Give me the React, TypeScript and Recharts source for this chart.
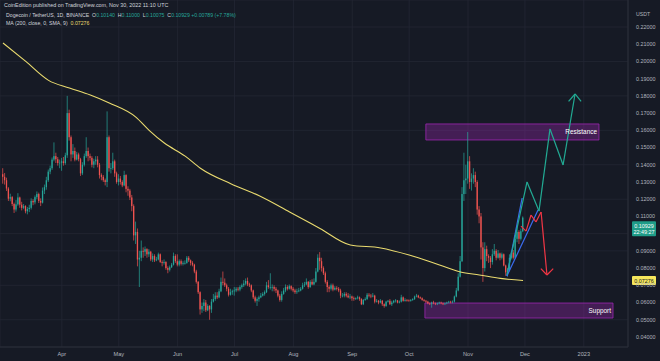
import {
  ComposedChart,
  Bar,
  Line,
  XAxis,
  YAxis,
  CartesianGrid,
  ReferenceArea,
  ReferenceLine,
} from 'recharts'

// DOGE/USDT daily candles, day 0 = 1 Mar 2022 ... day 274 = 30 Nov 2022
// open of each candle = close of the day before (24h market)
const firstOpen = 0.1345

const closes = [
  // Mar
  0.1330, 0.1310, 0.1262, 0.1203, 0.1212, 0.1172, 0.1140, 0.1170, 0.1210, 0.1168, 0.1150, 0.1160, 0.1130, 0.1143, 0.1150, 0.1190,
  0.1182, 0.1212, 0.1230, 0.1190, 0.1180, 0.1250, 0.1270, 0.1310, 0.1360, 0.1380, 0.1430, 0.1450, 0.1432, 0.1410, 0.1412,
  // Apr
  0.1420, 0.1410, 0.1455, 0.1700, 0.1560, 0.1460, 0.1480, 0.1430, 0.1460, 0.1432, 0.1350, 0.1400, 0.1450, 0.1480, 0.1450,
  0.1440, 0.1400, 0.1420, 0.1430, 0.1400, 0.1340, 0.1330, 0.1310, 0.1300, 0.1560, 0.1380, 0.1380, 0.1420, 0.1350, 0.1300,
  // May
  0.1320, 0.1300, 0.1280, 0.1340, 0.1260, 0.1250, 0.1210, 0.1160, 0.0990, 0.1010, 0.0850, 0.0860, 0.0900, 0.0895, 0.0910, 0.0880,
  0.0895, 0.0850, 0.0870, 0.0845, 0.0850, 0.0880, 0.0835, 0.0830, 0.0835, 0.0800, 0.0790, 0.0805, 0.0820, 0.0870, 0.0840,
  // Jun
  0.0820, 0.0840, 0.0825, 0.0830, 0.0830, 0.0860, 0.0845, 0.0830, 0.0820, 0.0780, 0.0720, 0.0660, 0.0560, 0.0580, 0.0600,
  0.0555, 0.0580, 0.0560, 0.0605, 0.0620, 0.0640, 0.0630, 0.0665, 0.0720, 0.0715, 0.0700, 0.0680, 0.0645, 0.0660, 0.0665,
  // Jul
  0.0670, 0.0680, 0.0675, 0.0690, 0.0700, 0.0710, 0.0725, 0.0705, 0.0700, 0.0670, 0.0630, 0.0610, 0.0620, 0.0630, 0.0640, 0.0650,
  0.0660, 0.0700, 0.0690, 0.0690, 0.0690, 0.0680, 0.0670, 0.0640, 0.0615, 0.0650, 0.0670, 0.0690, 0.0680, 0.0695, 0.0680,
  // Aug
  0.0670, 0.0660, 0.0665, 0.0670, 0.0680, 0.0700, 0.0705, 0.0720, 0.0690, 0.0720, 0.0705, 0.0720, 0.0780, 0.0860, 0.0840, 0.0800,
  0.0770, 0.0720, 0.0690, 0.0680, 0.0700, 0.0675, 0.0685, 0.0680, 0.0670, 0.0640, 0.0640, 0.0650, 0.0640, 0.0630, 0.0635,
  // Sep
  0.0625, 0.0620, 0.0625, 0.0630, 0.0620, 0.0590, 0.0615, 0.0620, 0.0645, 0.0640, 0.0635, 0.0640, 0.0605, 0.0610, 0.0600,
  0.0610, 0.0590, 0.0580, 0.0605, 0.0610, 0.0590, 0.0600, 0.0610, 0.0612, 0.0600, 0.0605, 0.0630, 0.0610, 0.0615, 0.0612,
  // Oct
  0.0610, 0.0615, 0.0620, 0.0635, 0.0640, 0.0630, 0.0625, 0.0615, 0.0610, 0.0605, 0.0595, 0.0590, 0.0600, 0.0595, 0.0590, 0.0595,
  0.0600, 0.0595, 0.0590, 0.0595, 0.0600, 0.0605, 0.0600, 0.0605, 0.0635, 0.0670, 0.0750, 0.0840, 0.1230, 0.1310, 0.1320,
  // Nov
  0.1420, 0.1300, 0.1320, 0.1340, 0.1300, 0.1140, 0.1100, 0.0920, 0.0800, 0.0910, 0.0870, 0.0860, 0.0835, 0.0880, 0.0900,
  0.0860, 0.0885, 0.0860, 0.0880, 0.0815, 0.0775, 0.0790, 0.0860, 0.0890, 0.0860, 0.0970, 0.1010, 0.0970, 0.1014, 0.1093,
]

const highs = [
  0.1380, 0.1352, 0.1325, 0.1270, 0.1232, 0.1218, 0.1180, 0.1195, 0.1235, 0.1215, 0.1185, 0.1172, 0.1165, 0.1155, 0.1168, 0.1205,
  0.1200, 0.1222, 0.1245, 0.1238, 0.1205, 0.1268, 0.1285, 0.1330, 0.1372, 0.1395, 0.1442, 0.1530, 0.1470, 0.1445, 0.1430,
  0.1440, 0.1445, 0.1470, 0.1800, 0.1720, 0.1570, 0.1520, 0.1500, 0.1475, 0.1470, 0.1440, 0.1415, 0.1465, 0.1560, 0.1500,
  0.1465, 0.1450, 0.1435, 0.1450, 0.1450, 0.1410, 0.1350, 0.1340, 0.1320, 0.1710, 0.1570, 0.1410, 0.1470, 0.1430, 0.1360,
  0.1345, 0.1335, 0.1310, 0.1365, 0.1345, 0.1275, 0.1260, 0.1225, 0.1170, 0.1070, 0.1030, 0.0900, 0.0960, 0.0920, 0.0925, 0.0915,
  0.0910, 0.0900, 0.0885, 0.0880, 0.0865, 0.0890, 0.0885, 0.0845, 0.0850, 0.0840, 0.0810, 0.0815, 0.0830, 0.0890, 0.0880,
  0.0880, 0.0850, 0.0850, 0.0840, 0.0845, 0.0870, 0.0870, 0.0850, 0.0840, 0.0825, 0.0790, 0.0725, 0.0665, 0.0600, 0.0620,
  0.0615, 0.0590, 0.0585, 0.0620, 0.0650, 0.0660, 0.0660, 0.0680, 0.0745, 0.0780, 0.0740, 0.0710, 0.0690, 0.0680, 0.0675,
  0.0690, 0.0690, 0.0690, 0.0700, 0.0710, 0.0730, 0.0740, 0.0745, 0.0715, 0.0705, 0.0675, 0.0640, 0.0630, 0.0640, 0.0655, 0.0660,
  0.0670, 0.0720, 0.0730, 0.0770, 0.0705, 0.0700, 0.0690, 0.0675, 0.0650, 0.0665, 0.0685, 0.0705, 0.0700, 0.0705, 0.0700,
  0.0690, 0.0680, 0.0680, 0.0685, 0.0690, 0.0715, 0.0720, 0.0740, 0.0725, 0.0730, 0.0735, 0.0740, 0.0800, 0.0880, 0.0893, 0.0860,
  0.0810, 0.0780, 0.0730, 0.0700, 0.0710, 0.0710, 0.0695, 0.0695, 0.0690, 0.0680, 0.0655, 0.0660, 0.0660, 0.0655, 0.0650,
  0.0640, 0.0635, 0.0630, 0.0640, 0.0635, 0.0625, 0.0620, 0.0630, 0.0655, 0.0655, 0.0650, 0.0655, 0.0645, 0.0620, 0.0615,
  0.0620, 0.0615, 0.0595, 0.0610, 0.0615, 0.0620, 0.0610, 0.0615, 0.0620, 0.0615, 0.0612, 0.0645, 0.0635, 0.0625, 0.0620,
  0.0618, 0.0620, 0.0625, 0.0640, 0.0650, 0.0645, 0.0635, 0.0630, 0.0620, 0.0615, 0.0610, 0.0600, 0.0605, 0.0610, 0.0600, 0.0600,
  0.0605, 0.0605, 0.0600, 0.0600, 0.0605, 0.0610, 0.0610, 0.0612, 0.0640, 0.0685, 0.0770, 0.0870, 0.1270, 0.1470, 0.1400,
  0.1590, 0.1450, 0.1350, 0.1380, 0.1360, 0.1310, 0.1160, 0.1120, 0.0950, 0.0950, 0.0930, 0.0880, 0.0870, 0.0910, 0.0940,
  0.0910, 0.0905, 0.0890, 0.0890, 0.0885, 0.0820, 0.0800, 0.0880, 0.0900, 0.0905, 0.0990, 0.1040, 0.1020, 0.1030, 0.1100,
]

const lows = [
  0.1290, 0.1285, 0.1248, 0.1190, 0.1188, 0.1160, 0.1120, 0.1128, 0.1162, 0.1150, 0.1135, 0.1142, 0.1118, 0.1112, 0.1125, 0.1140,
  0.1165, 0.1170, 0.1200, 0.1178, 0.1160, 0.1175, 0.1230, 0.1255, 0.1300, 0.1345, 0.1370, 0.1420, 0.1410, 0.1395, 0.1380,
  0.1365, 0.1395, 0.1400, 0.1440, 0.1540, 0.1420, 0.1440, 0.1420, 0.1425, 0.1420, 0.1335, 0.1340, 0.1390, 0.1440, 0.1420,
  0.1425, 0.1385, 0.1380, 0.1400, 0.1385, 0.1320, 0.1310, 0.1300, 0.1280, 0.1270, 0.1360, 0.1350, 0.1370, 0.1330, 0.1290,
  0.1280, 0.1285, 0.1270, 0.1275, 0.1240, 0.1220, 0.1195, 0.1130, 0.0960, 0.0940, 0.0810, 0.0690, 0.0840, 0.0860, 0.0870, 0.0860,
  0.0865, 0.0840, 0.0835, 0.0835, 0.0840, 0.0845, 0.0830, 0.0810, 0.0820, 0.0790, 0.0770, 0.0780, 0.0800, 0.0815, 0.0830,
  0.0810, 0.0810, 0.0815, 0.0815, 0.0820, 0.0825, 0.0835, 0.0815, 0.0810, 0.0770, 0.0710, 0.0650, 0.0530, 0.0540, 0.0550,
  0.0545, 0.0550, 0.0500, 0.0540, 0.0600, 0.0610, 0.0620, 0.0625, 0.0660, 0.0700, 0.0690, 0.0665, 0.0635, 0.0640, 0.0645,
  0.0640, 0.0660, 0.0665, 0.0665, 0.0680, 0.0690, 0.0700, 0.0695, 0.0690, 0.0660, 0.0620, 0.0600, 0.0580, 0.0605, 0.0625, 0.0635,
  0.0640, 0.0655, 0.0680, 0.0675, 0.0665, 0.0665, 0.0655, 0.0630, 0.0605, 0.0605, 0.0645, 0.0660, 0.0670, 0.0675, 0.0670,
  0.0660, 0.0650, 0.0650, 0.0660, 0.0665, 0.0675, 0.0690, 0.0700, 0.0680, 0.0685, 0.0700, 0.0700, 0.0715, 0.0775, 0.0790, 0.0780,
  0.0760, 0.0710, 0.0660, 0.0660, 0.0670, 0.0665, 0.0670, 0.0670, 0.0660, 0.0625, 0.0630, 0.0630, 0.0630, 0.0625, 0.0620,
  0.0610, 0.0610, 0.0615, 0.0618, 0.0610, 0.0585, 0.0585, 0.0610, 0.0615, 0.0630, 0.0625, 0.0630, 0.0595, 0.0600, 0.0590,
  0.0595, 0.0580, 0.0570, 0.0575, 0.0600, 0.0585, 0.0580, 0.0595, 0.0600, 0.0595, 0.0595, 0.0600, 0.0605, 0.0605, 0.0605,
  0.0605, 0.0605, 0.0610, 0.0615, 0.0630, 0.0625, 0.0620, 0.0610, 0.0605, 0.0598, 0.0590, 0.0585, 0.0570, 0.0590, 0.0585, 0.0585,
  0.0590, 0.0590, 0.0585, 0.0585, 0.0590, 0.0595, 0.0595, 0.0595, 0.0600, 0.0630, 0.0665, 0.0745, 0.0835, 0.1190, 0.1230,
  0.1290, 0.1260, 0.1250, 0.1290, 0.1270, 0.1110, 0.1060, 0.0850, 0.0720, 0.0780, 0.0840, 0.0830, 0.0800, 0.0820, 0.0870,
  0.0845, 0.0855, 0.0845, 0.0850, 0.0810, 0.0755, 0.0750, 0.0780, 0.0850, 0.0850, 0.0855, 0.0950, 0.0940, 0.0960, 0.1008,
]

// MA(200) at a few days
const maDays = [0, 12, 24, 35, 46, 56, 70, 77, 85, 96, 104, 120, 135, 151, 167, 183, 199, 214, 230, 241, 251, 262, 274]
const maValues = [
  0.2107, 0.2000, 0.1890, 0.1846, 0.1805, 0.1759, 0.1677, 0.1600, 0.1526, 0.1450, 0.1380, 0.1290, 0.1220, 0.1126, 0.1030,
  0.0934, 0.0917, 0.0876, 0.0818, 0.0777, 0.0760, 0.0740, 0.0728,
]

const monthTicks = [0, 31, 61, 92, 122, 153, 184, 214, 245, 275, 306]
const monthLabels = ['Mar', 'Apr', 'May', 'Jun', 'Jul', 'Aug', 'Sep', 'Oct', 'Nov', 'Dec', '2023']
const priceTicks = [0.04, 0.05, 0.06, 0.07, 0.08, 0.09, 0.1, 0.11, 0.12, 0.13, 0.14, 0.15, 0.16, 0.17, 0.18, 0.19, 0.2, 0.21, 0.22]

// idea drawings: [day, price]
const bluePaths = [
  [[265.5, 0.0754], [273.5, 0.1207]],
  [[265.5, 0.0754], [281.9, 0.1137]],
]
const greenPath = [
  [265.5, 0.076], [276.1, 0.13], [282.4, 0.1131], [288.2, 0.1608], [295.1, 0.1399], [301.4, 0.1811],
]
const greenArrow = [[298.0, 0.1768], [301.4, 0.1811], [304.6, 0.1768]]
const redPath = [
  [272.9, 0.1044], [275.6, 0.1015], [278.2, 0.1108], [280.8, 0.1068], [283.5, 0.1126], [286.6, 0.076],
]
const redArrow = [[283.4, 0.0797], [286.6, 0.076], [289.9, 0.0797]]

const BG = '#161a25'
const GRID = '#232733'
const UP = '#26a69a'
const DOWN = '#ef5350'
const TEXT = '#b2b5be'
const FONT = "'Liberation Sans', Arial, sans-serif"

const data = closes.map((c, i) => {
  const open = i === 0 ? firstOpen : closes[i - 1]
  const k = maDays.indexOf(i)
  return {
    day: i,
    open,
    close: c,
    high: Math.max(highs[i], open, c),
    low: Math.min(lows[i], open, c),
    ma: k >= 0 ? maValues[k] : null,
  }
})

function Candle(props: any) {
  const { x, y, width, height, payload } = props
  if (!payload) return null
  const { open, close, high, low } = payload
  const top = Math.min(y, y + height)
  const h = Math.abs(height)
  const span = high - low || 1e-9
  const py = (p: number) => top + ((high - p) / span) * h
  const color = close >= open ? UP : DOWN
  const cx = x + width / 2
  const b1 = py(Math.max(open, close))
  const b2 = py(Math.min(open, close))
  return (
    <g>
      <line x1={cx} x2={cx} y1={top} y2={top + h} stroke={color} strokeWidth={0.7} />
      <rect x={x} y={b1} width={width} height={Math.max(b2 - b1, 0.7)} fill={color} />
    </g>
  )
}

function PriceBadge(props: any) {
  const { viewBox, value, sub, bg, fg, shift = 0 } = props
  if (!viewBox) return null
  const x = viewBox.x + viewBox.width + 4
  const y = viewBox.y + shift
  return (
    <g>
      <rect x={x} y={y - 4.5} width={24} height={sub ? 15 : 9} rx={1} fill={bg} />
      <text x={x + 12} y={y + 2} textAnchor="middle" fontSize={5.4} fill={fg} fontFamily={FONT}>
        {value}
      </text>
      {sub && (
        <text x={x + 12} y={y + 8.5} textAnchor="middle" fontSize={5.4} fill={fg} fontFamily={FONT}>
          {sub}
        </text>
      )}
    </g>
  )
}

function segs(path: number[][], color: string, key: string) {
  return path.slice(1).map((p, i) => (
    <ReferenceLine
      key={`${key}-${i}`}
      segment={[{ x: path[i][0], y: path[i][1] }, { x: p[0], y: p[1] }]}
      stroke={color}
      strokeWidth={1.2}
      ifOverflow="visible"
    />
  ))
}

export default function App() {
  return (
    <div style={{ position: 'fixed', left: 0, top: 0, width: 660, height: 361, background: BG, fontFamily: FONT }}>
      <ComposedChart width={660} height={361} data={data} margin={{ top: 0, right: 0, bottom: 0, left: 0 }}>
        <CartesianGrid stroke={GRID} strokeWidth={0.8} />
        <XAxis
          dataKey="day"
          type="number"
          domain={[-1.58, 329.3]}
          ticks={monthTicks}
          tickFormatter={(v: number) => monthLabels[monthTicks.indexOf(v)]}
          height={14}
          tickLine={false}
          axisLine={{ stroke: '#2a2e39' }}
          tickSize={0}
          tickMargin={5}
          tick={{ fontSize: 5.6, fill: TEXT, fontFamily: FONT }}
          allowDataOverflow
        />
        <YAxis
          orientation="right"
          type="number"
          domain={[0.03417, 0.23568]}
          ticks={priceTicks}
          tickFormatter={(v: number) => (v === 0.1 ? '' : v.toFixed(5))}
          width={32}
          tickLine={false}
          axisLine={{ stroke: '#2a2e39' }}
          tick={{ fontSize: 5.4, fill: TEXT, fontFamily: FONT }}
          allowDataOverflow
        />
        <ReferenceArea
          x1={222.8}
          x2={314.0}
          y1={0.1544}
          y2={0.1637}
          fill="#9c27b0"
          fillOpacity={0.35}
          stroke="#9c27b0"
          strokeOpacity={0.8}
          ifOverflow="visible"
          label={{ value: 'Resistance', position: 'insideRight', offset: 2, fill: '#ffffff', fontSize: 6.4, fontFamily: FONT }}
        />
        <ReferenceArea
          x1={222.3}
          x2={321.4}
          y1={0.051}
          y2={0.0597}
          fill="#9c27b0"
          fillOpacity={0.35}
          stroke="#9c27b0"
          strokeOpacity={0.8}
          ifOverflow="visible"
          label={{ value: 'Support', position: 'insideRight', offset: 2, fill: '#ffffff', fontSize: 6.4, fontFamily: FONT }}
        />
        <Line
          dataKey="ma"
          type="monotone"
          connectNulls
          dot={false}
          activeDot={false}
          stroke="#eadb6f"
          strokeWidth={1.1}
          isAnimationActive={false}
        />
        <Bar
          dataKey={(d: any) => [d.low, d.high]}
          shape={<Candle />}
          activeBar={false}
          barSize={1.3}
          isAnimationActive={false}
        />
        {bluePaths.map((p, i) => segs(p, '#3b6cf0', `b${i}`))}
        {segs(greenPath, '#22ab94', 'g')}
        {segs(greenArrow, '#22ab94', 'ga')}
        {segs(redPath, '#f23645', 'r')}
        {segs(redArrow, '#f23645', 'ra')}
        <ReferenceLine
          y={0.10929}
          stroke="none"
          ifOverflow="visible"
          label={<PriceBadge value="0.10929" sub="22:49:27" bg="#1f9c88" fg="#ffffff" shift={8} />}
        />
        <ReferenceLine
          y={0.07276}
          stroke="none"
          ifOverflow="visible"
          label={<PriceBadge value="0.07276" bg="#f5e65c" fg="#131722" />}
        />
      </ComposedChart>
      <div style={{ position: 'absolute', left: 4, top: 2, fontSize: 5.4, color: '#d1d4dc', whiteSpace: 'nowrap' }}>
        CoinEdition published on TradingView.com, Nov 30, 2022 11:10 UTC
      </div>
      <div style={{ position: 'absolute', left: 6, top: 12, fontSize: 5.2, color: '#d1d4dc', whiteSpace: 'nowrap' }}>
        Dogecoin / TetherUS, 1D, BINANCE&nbsp; O<span style={{ color: UP }}>0.10140</span>&nbsp; H
        <span style={{ color: UP }}>0.11000</span>&nbsp; L<span style={{ color: UP }}>0.10075</span>&nbsp; C
        <span style={{ color: UP }}>0.10929 +0.00789 (+7.78%)</span>
      </div>
      <div style={{ position: 'absolute', left: 6, top: 20, fontSize: 5.2, color: '#d1d4dc', whiteSpace: 'nowrap' }}>
        MA (200, close, 0, SMA, 9)&nbsp; <span style={{ color: '#eadb6f' }}>0.07276</span>
      </div>
      <div style={{ position: 'absolute', left: 636, top: 11, fontSize: 5.2, color: TEXT }}>USDT</div>
    </div>
  )
}
